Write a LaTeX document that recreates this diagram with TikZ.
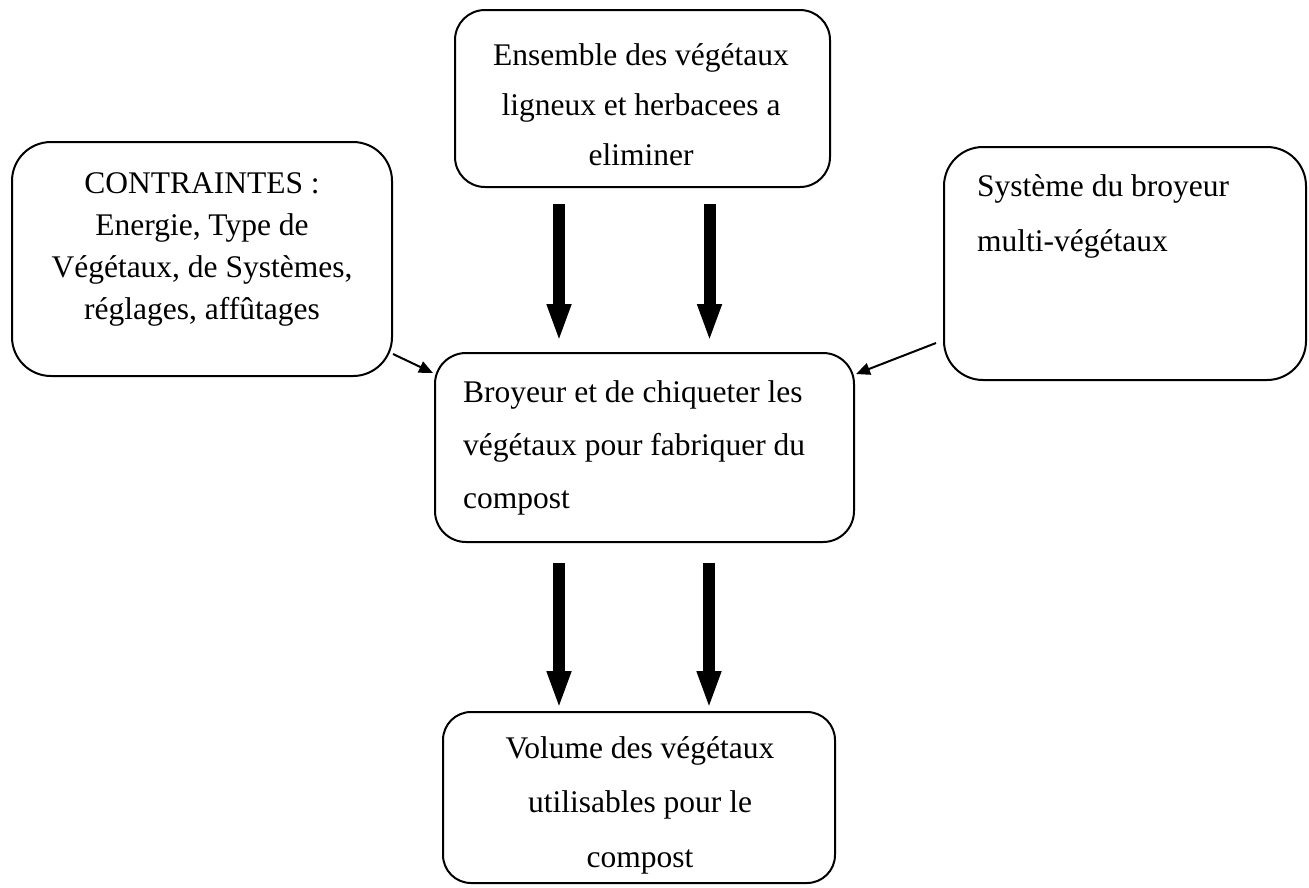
\documentclass[tikz,border=0pt]{standalone}
\usepackage{fontspec}
\setmainfont{Liberation Serif}
\usetikzlibrary{arrows.meta}
\newcommand{\ctrlines}[3]{\parbox[t]{#1}{\centering\fontsize{31.5}{#2}\selectfont #3}}
\newcommand{\leftlines}[3]{\parbox[t]{#1}{\raggedright\fontsize{31.5}{#2}\selectfont #3}}
\begin{document}
\begin{tikzpicture}[x=1pt,y=-1pt,
  box/.style={draw, line width=2pt, inner sep=0pt},
  txt/.style={inner sep=0pt, anchor=base},
  txtw/.style={inner sep=0pt, anchor=base west},
  bigarrow/.style={line width=12pt, -{Triangle[width=22pt,length=38pt]}},
  thinarrow/.style={line width=2pt, -{Triangle[width=12pt,length=14pt]}}]
\useasboundingbox[fill=white] (0,0) rectangle (1309,887);
% boxes
\node[box, rounded corners=30pt, minimum width=375pt, minimum height=177pt] (top) at (642.5,98.5) {};
\node[box, rounded corners=39pt, minimum width=380pt, minimum height=234pt] (left) at (202,259) {};
\node[box, rounded corners=39pt, minimum width=362pt, minimum height=233pt] (right) at (1125,263.5) {};
\node[box, rounded corners=31pt, minimum width=419pt, minimum height=189pt] (centre) at (644.5,447.5) {};
\node[box, rounded corners=28pt, minimum width=392pt, minimum height=171pt] (bottom) at (639,797.5) {};
% texts
\node[txt] (topT) at (641,65) {\ctrlines{360pt}{50pt}{Ensemble des végétaux\\ligneux et herbacees a\\eliminer}};
\node[txt] (leftT) at (202,193) {\ctrlines{370pt}{42.2pt}{CONTRAINTES :\\Energie, Type de\\Végétaux, de Systèmes,\\réglages, affûtages}};
\node[txtw] (rightT) at (977,196) {\leftlines{320pt}{55pt}{Système du broyeur\\multi-végétaux}};
\node[txtw] (centreT) at (463,402) {\leftlines{385pt}{53pt}{Broyeur et de chiqueter les\\végétaux pour fabriquer du\\compost}};
\node[txt] (bottomT) at (640,758) {\ctrlines{380pt}{54.5pt}{Volume des végétaux\\utilisables pour le\\compost}};
% thick arrows
\draw[bigarrow] ([xshift=-83.5pt,yshift=-16pt]top.south) -- ([xshift=-85.5pt,yshift=10pt]centre.north);
\draw[bigarrow] ([xshift=67pt,yshift=-16pt]top.south) -- ([xshift=65pt,yshift=10pt]centre.north);
\draw[bigarrow] ([xshift=-85.5pt,yshift=-20pt]centre.south) -- ([xshift=-80pt,yshift=2pt]bottom.north);
\draw[bigarrow] ([xshift=64.5pt,yshift=-20pt]centre.south) -- ([xshift=70pt,yshift=2pt]bottom.north);
% thin arrows
\draw[thinarrow] ([yshift=23pt]left.south east) -- ([xshift=-1pt,yshift=-21pt]centre.north west);
\draw[thinarrow] ([xshift=-7pt,yshift=38pt]right.south west) -- ([xshift=1pt,yshift=-22pt]centre.north east);
\end{tikzpicture}
\end{document}
